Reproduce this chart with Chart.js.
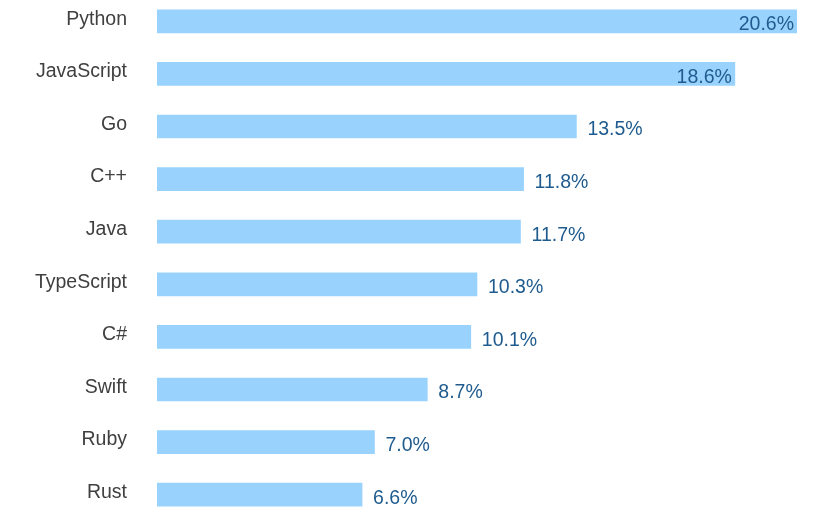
<!DOCTYPE html>
<html>
<head>
<meta charset="utf-8">
<script src="https://cdn.jsdelivr.net/npm/chart.js@4"></script>
<style>
  html, body { margin: 0; padding: 0; background: #fff; overflow: hidden; }
  #wrap { position: relative; top: -5px; width: 825px; height: 526px; }
</style>
</head>
<body>
<div id="wrap"><canvas id="langChart"></canvas></div>
<script>
const languages = ['Python', 'JavaScript', 'Go', 'C++', 'Java', 'TypeScript', 'C#', 'Swift', 'Ruby', 'Rust'];
const shares = [20.6, 18.6, 13.5, 11.8, 11.7, 10.3, 10.1, 8.7, 7.0, 6.6];

const barColor = '#99d3fd';
const labelColor = '#404040';
const valueColor = '#1f5b8e';
const fontFamily = '"Liberation Sans", Arial, sans-serif';

// Prozentwerte an die Balken schreiben
const valueLabels = {
  id: 'valueLabels',
  afterDatasetsDraw(chart) {
    const { ctx, chartArea } = chart;
    const meta = chart.getDatasetMeta(0);
    ctx.save();
    ctx.font = '19.5px ' + fontFamily;
    ctx.fillStyle = valueColor;
    ctx.textBaseline = 'middle';
    meta.data.forEach((bar, i) => {
      const text = shares[i].toFixed(1) + '%';
      const w = ctx.measureText(text).width;
      if (bar.x + 11 + w > chartArea.right) {
        ctx.textAlign = 'right';
        ctx.fillText(text, bar.x - 3, bar.y + 3.5);
      } else {
        ctx.textAlign = 'left';
        ctx.fillText(text, bar.x + 11, bar.y + 3.5);
      }
    });
    ctx.restore();
  }
};

new Chart(document.getElementById('langChart'), {
  type: 'bar',
  data: {
    labels: languages,
    datasets: [{
      data: shares,
      backgroundColor: barColor,
      barThickness: 23
    }]
  },
  options: {
    indexAxis: 'y',
    responsive: true,
    maintainAspectRatio: false,
    animation: false,
    layout: { padding: { top: 0, bottom: 0, right: 28, left: 0 } },
    scales: {
      x: {
        display: false,
        min: 0,
        max: 20.6
      },
      y: {
        grid: { display: false, drawTicks: false },
        border: { display: false },
        ticks: {
          color: labelColor,
          padding: 30,
          labelOffset: -2,
          font: { family: fontFamily, size: 19.5 }
        },
        afterFit: scale => {
          scale.width = 157;
          scale.paddingTop = 0;
          scale.paddingBottom = 0;
        }
      }
    },
    plugins: {
      legend: { display: false },
      tooltip: { enabled: false }
    }
  },
  plugins: [valueLabels]
});
</script>
</body>
</html>
